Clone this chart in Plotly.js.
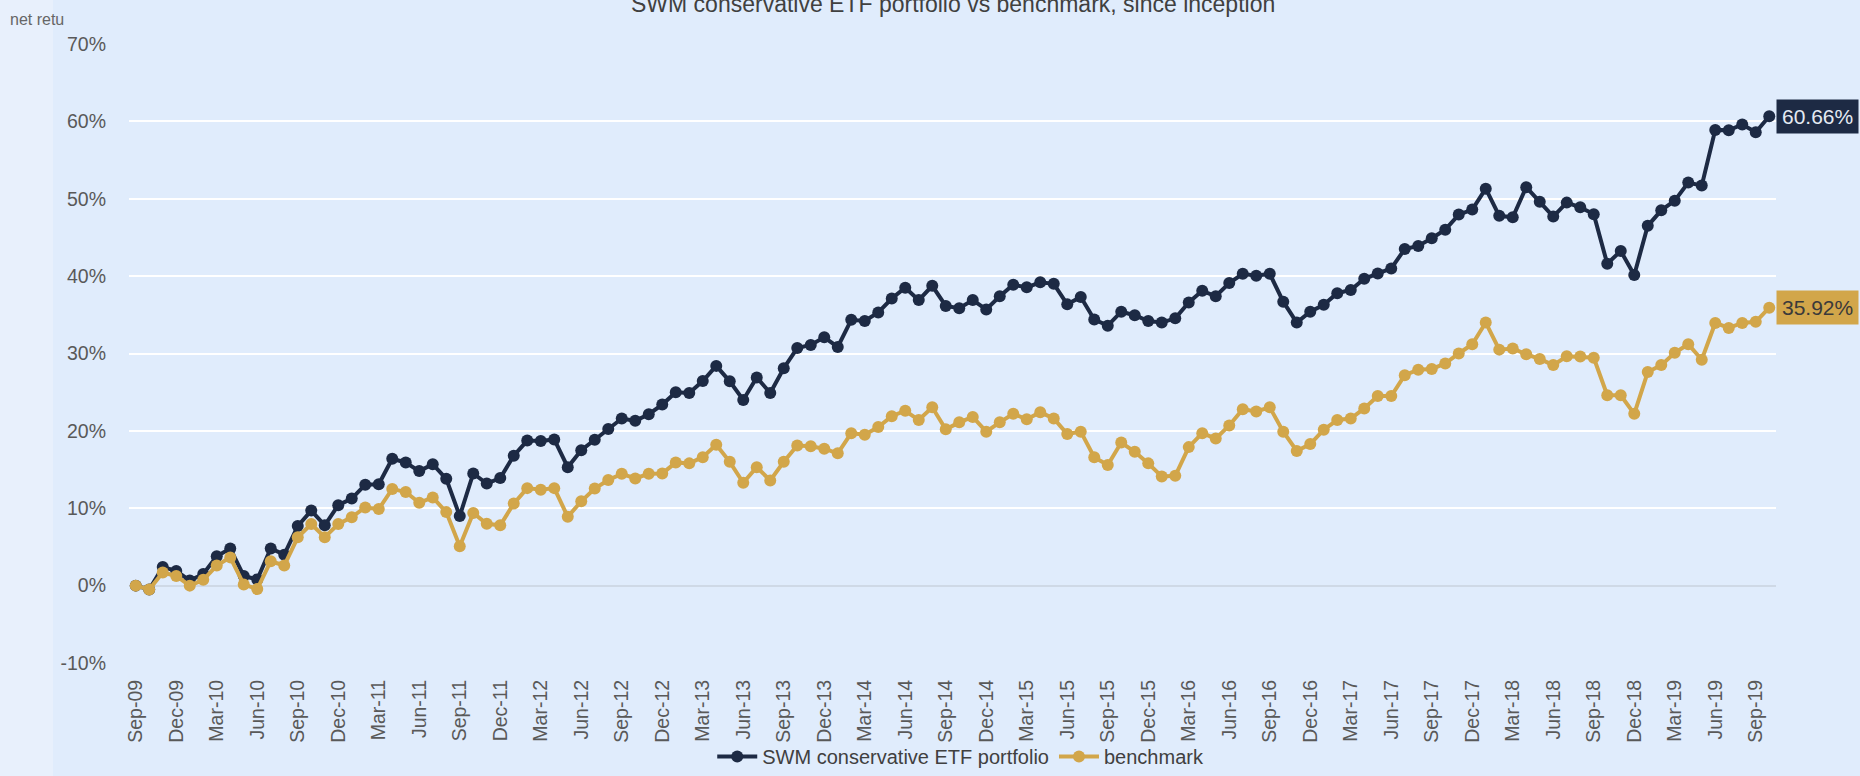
<!DOCTYPE html>
<html>
<head>
<meta charset="utf-8">
<script src="https://cdn.plot.ly/plotly-3.0.1.min.js"></script>
<style>
  html, body { margin: 0; padding: 0; background: #e0ecfc; }
  #chart { width: 1860px; height: 776px; }
</style>
</head>
<body>
<div id="chart"></div>
<script>
// Month labels Sep-09 .. Oct-19
const monthNames = ["Jan","Feb","Mar","Apr","May","Jun","Jul","Aug","Sep","Oct","Nov","Dec"];
const startYear = 2009, startMonth = 8, nPoints = 122;
const months = [];
for (let i = 0; i < nPoints; i++) {
  const m = (startMonth + i) % 12;
  const y = startYear + Math.floor((startMonth + i) / 12);
  months.push(monthNames[m] + "-" + String(y % 100).padStart(2, "0"));
}

const portfolio = [
  0, -0.5, 2.4, 1.9, 0.65, 1.5, 3.8, 4.8, 1.25, 0.8, 4.8, 4.0,
  7.7, 9.7, 7.8, 10.4, 11.25, 13.05, 13.1, 16.4, 15.9, 14.8, 15.7, 13.8,
  9.0, 14.5, 13.2, 13.9, 16.8, 18.75, 18.7, 18.9, 15.3, 17.5, 18.85, 20.25,
  21.6, 21.3, 22.15, 23.4, 25.0, 24.9, 26.45, 28.4, 26.4, 24.0, 26.9, 24.9,
  28.1, 30.7, 31.1, 32.1, 30.85, 34.35, 34.2, 35.3, 37.1, 38.5, 36.9, 38.75,
  36.15, 35.85, 36.9, 35.7, 37.4, 38.9, 38.55, 39.2, 39.0, 36.35, 37.3, 34.4,
  33.6, 35.4, 34.95, 34.2, 34.0, 34.55, 36.6, 38.1, 37.4, 39.1, 40.3, 40.05,
  40.3, 36.7, 34.0, 35.4, 36.3, 37.8, 38.2, 39.65, 40.35, 41.0, 43.5, 43.9,
  44.9, 46.0, 47.95, 48.6, 51.3, 47.8, 47.6, 51.5, 49.6, 47.7, 49.5, 48.9,
  48.0, 41.6, 43.25, 40.15, 46.5, 48.5, 49.75, 52.1, 51.7, 58.9, 58.85, 59.6,
  58.6, 60.66
];

const benchmark = [
  0, -0.5, 1.7, 1.25, 0, 0.75, 2.6, 3.65, 0.15, -0.45, 3.15, 2.6,
  6.25, 7.95, 6.25, 7.95, 8.85, 10.1, 9.9, 12.5, 12.1, 10.7, 11.4, 9.5,
  5.1, 9.4, 8.0, 7.8, 10.6, 12.6, 12.4, 12.6, 8.9, 10.9, 12.55, 13.65,
  14.45, 13.85, 14.45, 14.5, 15.9, 15.8, 16.6, 18.2, 16.0, 13.3, 15.3, 13.6,
  16.0, 18.1, 18.0, 17.7, 17.1, 19.7, 19.5, 20.5, 21.9, 22.6, 21.4, 23.05,
  20.2, 21.1, 21.8, 19.9, 21.1, 22.2, 21.5, 22.4, 21.6, 19.6, 19.9, 16.6,
  15.6, 18.5, 17.3, 15.8, 14.1, 14.2, 17.9, 19.7, 19.0, 20.7, 22.8, 22.5,
  23.05, 19.9, 17.4, 18.3, 20.15, 21.4, 21.6, 22.9, 24.5, 24.5, 27.2, 27.9,
  28.0, 28.7, 30.0, 31.2, 34.0, 30.5, 30.65, 29.9, 29.3, 28.5, 29.65, 29.6,
  29.45, 24.6, 24.6, 22.2, 27.6, 28.5, 30.1, 31.2, 29.2, 33.95, 33.3, 33.95,
  34.1, 35.92
];

const seriesNames = ["SWM conservative ETF portfolio", "benchmark"];
const yTickVals = [-10, 0, 10, 20, 30, 40, 50, 60, 70];
const yTickText = ["-10%", "0%", "10%", "20%", "30%", "40%", "50%", "60%", "70%"];
const xTickVals = months.filter((_, i) => i % 3 === 0);
const chartTitle = "SWM conservative ETF portfolio vs benchmark, since inception";
const yTitleVisible = "net retu";

const navy = "#1d2a44";
const gold = "#d2a64a";
const FONT = "'Liberation Sans Narrow', 'Arial Narrow', 'Liberation Sans', Arial, sans-serif";
const lastIdx = months.length - 1;

const traces = [
  {
    x: months, y: portfolio, name: seriesNames[0], type: "scatter", mode: "lines+markers",
    line: { color: navy, width: 4 }, marker: { color: navy, size: 12 }
  },
  {
    x: months, y: benchmark, name: seriesNames[1], type: "scatter", mode: "lines+markers",
    line: { color: gold, width: 4 }, marker: { color: gold, size: 12 }
  }
];

const layout = {
  width: 1860, height: 776,
  paper_bgcolor: "#e0ecfc", plot_bgcolor: "#e0ecfc",
  margin: { l: 129, r: 84, t: 44, b: 113 },
  font: { family: FONT, size: 19.5, color: "#595959" },
  showlegend: true,
  legend: {
    orientation: "h", x: 0.505, xanchor: "center", xref: "paper",
    yref: "container", y: -0.013, yanchor: "bottom",
    itemwidth: 40,
    font: { family: FONT, size: 20, color: "#404040" },
    bgcolor: "rgba(0,0,0,0)"
  },
  xaxis: {
    type: "category", tickmode: "array", tickvals: xTickVals, ticktext: xTickVals,
    tickangle: -90, showgrid: false, showline: false, zeroline: false,
    ticks: "", ticklabelstandoff: 12,
    tickfont: { family: FONT, size: 19.5, color: "#595959" },
    range: [-0.5, months.length - 0.5], fixedrange: true
  },
  yaxis: {
    range: [-10, 70], tickmode: "array", tickvals: yTickVals, ticktext: yTickText,
    showgrid: true, gridcolor: "#ffffff", gridwidth: 2,
    zeroline: true, zerolinecolor: "#cfd9e6", zerolinewidth: 2,
    showline: false, ticks: "", ticklabelstandoff: 22,
    tickfont: { family: FONT, size: 19.5, color: "#595959" }, fixedrange: true
  },
  shapes: [
    { type: "rect", xref: "paper", yref: "paper", x0: -129/1647, x1: -76/1647, y0: -113/619, y1: 1 + 44/619,
      fillcolor: "#e8f0fc", line: { width: 0 }, layer: "below" }
  ],
  annotations: [
    { text: chartTitle, xref: "paper", x: 0.5, xanchor: "center", yref: "paper", y: 1, yanchor: "bottom",
      yshift: 25, showarrow: false, font: { family: FONT, size: 23, color: "#404040" } },
    { text: yTitleVisible, xref: "paper", x: -121/1647, xanchor: "left", yref: "paper", y: 1, yanchor: "bottom",
      yshift: 14, showarrow: false, font: { family: FONT, size: 16, color: "#666666" } },
    { text: portfolio[lastIdx].toFixed(2) + "%", xref: "paper", x: 1, xanchor: "left", yref: "y", y: portfolio[lastIdx],
      yanchor: "middle", showarrow: false, bgcolor: navy, borderpad: 5,
      font: { family: FONT, size: 21, color: "#e4eaf3" } },
    { text: benchmark[lastIdx].toFixed(2) + "%", xref: "paper", x: 1, xanchor: "left", yref: "y", y: benchmark[lastIdx],
      yanchor: "middle", showarrow: false, bgcolor: gold, borderpad: 5,
      font: { family: FONT, size: 21, color: "#3a3a3a" } }
  ]
};

Plotly.newPlot("chart", traces, layout, { displayModeBar: false, staticPlot: true });
</script>
</body>
</html>
